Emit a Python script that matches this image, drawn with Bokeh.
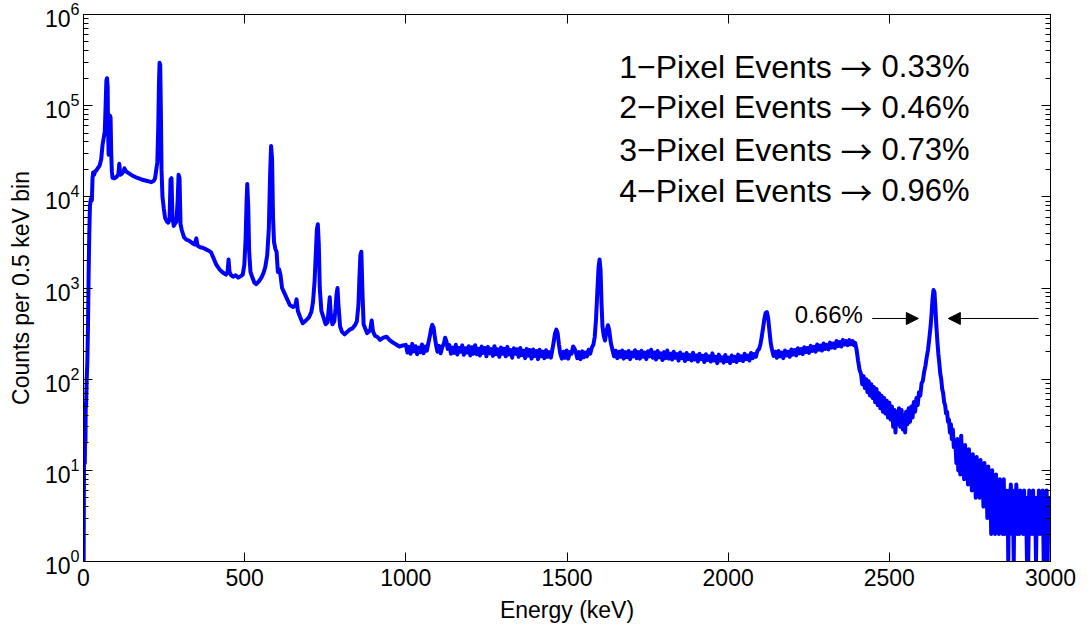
from bokeh.plotting import figure
from bokeh.models import (Range1d, FixedTicker, LinearAxis, LogAxis, Label, Arrow,
                          NormalHead, CustomLabelingPolicy)
from bokeh.embed import file_html
from bokeh.resources import INLINE

# ---------------- data ----------------
# Low-energy part: X-ray peaks, Compton continuum and the strong lines (keV, counts)
low_energy = [
    (0.5, 1), (1.5, 13), (3, 18), (4, 12), (5, 25), (6, 20), (7, 55), (8, 50),
    (10, 100), (12, 160), (14, 400), (16, 1500), (18, 4000), (20, 8000),
    (23, 9500), (26, 9200), (28, 16000), (30, 18500), (33, 17500), (36, 19000),
    (40, 19500), (44, 20500), (50, 22000), (55, 26000), (59, 37000), (63, 45000),
    (66, 52000), (69, 110000), (71, 190000), (73, 200000), (75, 160000), (76, 60000),
    (78, 29000), (80, 60000), (82, 78000), (84, 74000), (86, 30000), (88, 19000),
    (90, 16200), (96, 16000), (102, 16500), (108, 17500), (111, 23000), (114, 17500),
    (118, 17800), (122, 18500), (127, 20500), (132, 19000), (140, 18200),
    (153, 17000), (165, 16200), (180, 15500), (195, 15000), (211, 14500),
    (218, 15000), (222, 16000), (229, 24000), (232, 60000), (234, 170000),
    (236, 295000), (238, 280000), (240, 90000), (242, 20000), (245, 10000),
    (249, 7500), (253, 5900), (258, 5400), (263, 5200), (267, 5600), (270, 15500),
    (273, 16000), (276, 6000), (280, 4800), (284, 5100), (288, 5300), (292, 9000),
    (295, 17500), (298, 16000), (301, 5000), (305, 4300), (312, 3600), (319, 3400),
    (328, 3300), (338, 3100), (345, 3000), (350, 3500), (354, 2900), (362, 2800),
    (370, 2760), (380, 2650), (390, 2550), (396, 2450), (404, 2100), (412, 1800),
    (422, 1600), (432, 1480), (442, 1400), (447, 1500), (450, 2050), (453, 1500),
    (458, 1380), (464, 1330), (472, 1380), (480, 1300), (488, 1350), (494, 1400),
    (499, 1800), (503, 3500), (506, 9000), (508, 13800), (511, 8000), (514, 2500),
    (518, 1500), (524, 1300), (530, 1150), (536, 1100), (544, 1180), (552, 1300),
    (558, 1450), (564, 1700), (570, 2300), (575, 4500), (579, 18000), (582, 36000),
    (585, 26000), (588, 6000), (591, 3200), (595, 2700), (599, 2500), (603, 1500),
    (607, 1600), (611, 1400), (616, 1000), (622, 900), (630, 780), (640, 650),
    (650, 620), (657, 640), (661, 750), (665, 560), (672, 480), (680, 410),
    (690, 440), (700, 480), (707, 550), (712, 700), (717, 1200), (721, 2500),
    (724, 4400), (727, 5000), (730, 3000), (733, 1000), (738, 560), (745, 470),
    (751, 400), (757, 420), (761, 600), (764, 790), (767, 520), (772, 400),
    (778, 430), (782, 600), (785, 850), (788, 1000), (791, 650), (796, 380),
    (802, 330), (810, 310), (818, 330), (826, 350), (834, 360), (842, 390),
    (848, 430), (853, 650), (856, 1300), (859, 2300), (862, 2500), (865, 1000),
    (869, 400), (874, 360), (880, 320), (886, 335), (890, 350), (894, 440),
    (898, 335), (904, 300), (912, 290), (920, 270), (930, 285), (940, 292),
    (950, 268), (960, 252), (970, 240), (980, 228), (990, 234),
]

# Flat continuum 1000-2410 keV with the 1.1, 1.46, 1.6 and 2.1 MeV lines
mid_energy = [
    (1000, 238), (1005, 196), (1010, 226), (1015, 190), (1020, 244), (1025, 202),
    (1030, 230), (1035, 188), (1040, 222), (1045, 198), (1050, 240), (1055, 192),
    (1060, 228), (1065, 205), (1070, 250), (1074, 290), (1078, 350), (1082, 395),
    (1086, 370), (1090, 290), (1094, 235), (1098, 200), (1103, 232), (1108, 192),
    (1113, 225), (1118, 245), (1122, 285), (1126, 260), (1130, 215), (1135, 236),
    (1140, 190), (1145, 222), (1150, 194), (1155, 238), (1160, 186), (1165, 220),
    (1170, 200), (1175, 235), (1180, 185), (1185, 218), (1190, 196), (1195, 230),
    (1200, 182), (1205, 224), (1210, 190), (1215, 236), (1220, 188), (1225, 215),
    (1230, 182), (1235, 228), (1240, 194), (1245, 220), (1250, 178), (1255, 226),
    (1260, 192), (1265, 214), (1270, 180), (1275, 230), (1280, 188), (1285, 212),
    (1290, 176), (1295, 222), (1300, 190), (1305, 215), (1310, 178), (1315, 226),
    (1320, 186), (1325, 208), (1330, 172), (1335, 218), (1340, 190), (1345, 212),
    (1350, 176), (1355, 220), (1360, 184), (1365, 205), (1370, 170), (1375, 215),
    (1380, 182), (1385, 208), (1390, 168), (1395, 212), (1400, 180), (1405, 204),
    (1410, 166), (1415, 210), (1420, 178), (1425, 200), (1430, 170), (1435, 208),
    (1440, 176), (1445, 198), (1450, 172), (1455, 215), (1459, 260), (1463, 320),
    (1467, 350), (1471, 320), (1475, 240), (1479, 192), (1484, 168), (1489, 200),
    (1494, 172), (1499, 206), (1504, 168), (1509, 198), (1514, 190), (1519, 228),
    (1523, 218), (1527, 200), (1532, 170), (1537, 198), (1542, 166), (1547, 202),
    (1552, 174), (1557, 196), (1562, 178), (1567, 210), (1572, 190), (1577, 222),
    (1582, 240), (1586, 290), (1590, 450), (1594, 900), (1598, 1700), (1601, 2050),
    (1604, 1600), (1607, 700), (1610, 380), (1614, 300), (1618, 265), (1622, 330),
    (1627, 390), (1631, 345), (1636, 250), (1641, 210), (1646, 178), (1651, 205),
    (1656, 170), (1661, 200), (1666, 176), (1671, 206), (1676, 168), (1681, 198),
    (1686, 174), (1691, 204), (1696, 166), (1701, 196), (1706, 178), (1711, 208),
    (1716, 170), (1721, 198), (1726, 168), (1731, 205), (1736, 176), (1741, 196),
    (1746, 166), (1751, 202), (1756, 178), (1761, 210), (1766, 172), (1771, 196),
    (1776, 164), (1781, 204), (1786, 174), (1791, 192), (1796, 162), (1801, 198),
    (1806, 170), (1811, 206), (1816, 168), (1821, 190), (1826, 164), (1831, 200),
    (1836, 172), (1841, 188), (1846, 160), (1851, 196), (1856, 170), (1861, 186),
    (1866, 158), (1871, 194), (1876, 166), (1881, 184), (1886, 160), (1891, 195),
    (1896, 164), (1901, 182), (1906, 156), (1911, 190), (1916, 166), (1921, 180),
    (1926, 154), (1931, 188), (1936, 162), (1941, 178), (1946, 156), (1951, 192),
    (1956, 160), (1961, 176), (1966, 150), (1971, 186), (1976, 160), (1981, 174),
    (1986, 152), (1991, 184), (1996, 158), (2001, 172), (2006, 150), (2011, 182),
    (2016, 158), (2021, 176), (2026, 154), (2031, 186), (2036, 162), (2041, 178),
    (2046, 158), (2051, 190), (2056, 166), (2061, 182), (2066, 160), (2071, 194),
    (2076, 170), (2081, 188), (2086, 176), (2091, 205), (2096, 215), (2100, 240),
    (2104, 290), (2108, 360), (2112, 450), (2116, 530), (2120, 545), (2124, 470),
    (2128, 340), (2132, 250), (2136, 210), (2141, 180), (2146, 200), (2151, 172),
    (2156, 204), (2161, 178), (2166, 196), (2171, 170), (2176, 206), (2181, 182),
    (2186, 200), (2191, 176), (2196, 212), (2201, 186), (2206, 208), (2211, 182),
    (2216, 218), (2221, 192), (2226, 214), (2231, 188), (2236, 224), (2241, 198),
    (2246, 220), (2251, 194), (2256, 232), (2261, 204), (2266, 226), (2271, 200),
    (2276, 240), (2281, 210), (2286, 234), (2291, 206), (2296, 246), (2301, 214),
    (2306, 238), (2311, 212), (2316, 252), (2321, 222), (2326, 246), (2331, 220),
    (2336, 262), (2341, 230), (2346, 256), (2351, 228), (2356, 270), (2361, 240),
    (2366, 262), (2371, 236), (2376, 268), (2381, 242), (2386, 262), (2390, 236),
    (2394, 250), (2398, 215), (2403, 160), (2408, 125),
]

# Compton edge, valley and the 2.6 MeV line
high_energy = [
    (2412, 115), (2416, 88), (2420, 108), (2424, 80), (2428, 100), (2432, 72),
    (2436, 95), (2440, 66), (2444, 88), (2448, 62), (2452, 82), (2456, 56),
    (2460, 78), (2464, 52), (2468, 70), (2472, 48), (2476, 66), (2480, 44),
    (2484, 62), (2488, 42), (2492, 58), (2496, 38), (2500, 55), (2504, 36),
    (2508, 50), (2512, 30), (2516, 46), (2519, 26), (2522, 44), (2526, 32),
    (2530, 48), (2534, 30), (2538, 46), (2542, 28), (2546, 40), (2549, 26),
    (2552, 44), (2556, 32), (2560, 48), (2564, 34), (2568, 50), (2572, 38),
    (2576, 56), (2580, 44), (2584, 62), (2588, 52), (2592, 72), (2596, 66),
    (2600, 90), (2604, 96), (2608, 120), (2612, 140), (2616, 175), (2620, 210),
    (2624, 280), (2628, 380), (2631, 520), (2634, 760), (2637, 950), (2640, 900),
    (2643, 600), (2646, 380), (2649, 260), (2652, 190), (2655, 150), (2658, 115),
    (2661, 100), (2664, 78), (2667, 70), (2670, 56), (2673, 52), (2676, 42),
    (2679, 44), (2682, 34), (2685, 36), (2688, 26), (2691, 32), (2694, 22),
    (2697, 28), (2700, 18),
]

# Noisy tail up to 3 MeV (integer counts per bin)
tail_energy = [
    (2705, 20), (2708, 12), (2711, 22), (2714, 10), (2717, 18), (2720, 9),
    (2723, 24), (2726, 11), (2729, 16), (2732, 8), (2735, 19), (2738, 10),
    (2741, 14), (2744, 7), (2747, 17), (2750, 9), (2753, 13), (2756, 6),
    (2759, 15), (2762, 8), (2765, 12), (2768, 5), (2771, 14), (2774, 7),
    (2777, 11), (2780, 5), (2783, 13), (2786, 6), (2789, 10), (2792, 4),
    (2795, 12), (2798, 5), (2801, 9), (2804, 3), (2807, 11), (2810, 4),
    (2813, 8), (2816, 2), (2819, 10), (2822, 3), (2825, 8), (2828, 2),
    (2831, 9), (2834, 3), (2837, 7), (2840, 2), (2843, 8), (2846, 3),
    (2849, 6), (2852, 2), (2855, 8), (2858, 2), (2861, 6), (2864, 2),
    (2867, 5), (2869, 1), (2871, 6), (2874, 2), (2877, 7), (2880, 2),
    (2883, 5), (2886, 1), (2888, 6), (2891, 2), (2894, 7), (2897, 2),
    (2900, 5), (2903, 2), (2906, 6), (2909, 3), (2912, 5), (2915, 2),
    (2918, 6), (2921, 2), (2924, 5), (2927, 1), (2929, 5), (2931, 1),
    (2934, 6), (2937, 2), (2940, 5), (2943, 2), (2946, 6), (2949, 2),
    (2952, 5), (2955, 1), (2958, 5), (2961, 2), (2964, 6), (2967, 2),
    (2970, 5), (2973, 2), (2976, 6), (2979, 1), (2982, 5), (2985, 2),
    (2988, 6), (2991, 1), (2994, 5), (2997, 2), (3000, 5),
]

x_ticks = [0, 500, 1000, 1500, 2000, 2500, 3000]
y_decades = [1, 10, 100, 1000, 10000, 100000, 1000000]

event_names = ["1\u2212Pixel Events", "2\u2212Pixel Events",
               "3\u2212Pixel Events", "4\u2212Pixel Events"]
event_values = ["0.33%", "0.46%", "0.73%", "0.96%"]
event_label_y = [268500, 95500, 33050, 11730]
event_name_x = 1662
event_arrow_x = 2398
event_value_x = 2476

fwhm_label = "0.66%"
fwhm_label_pos = (2418, 512)
arrow_y = 463
arrow_left = (2447, 2590)
arrow_right = (2963, 2683)

# ---------------- figure ----------------
points = low_energy + mid_energy + high_energy + tail_energy
energy = [e for e, c in points]
counts = [c for e, c in points]

FONT = "Liberation Sans"

p = figure(
    frame_width=967, frame_height=547,
    x_range=Range1d(0, 3000), y_range=Range1d(1, 1e6),
    y_axis_type="log",
    output_backend="svg", toolbar_location=None,
    min_border_left=83, min_border_top=14, min_border_right=30, min_border_bottom=40,
    background_fill_color="white", border_fill_color="white",
)
p.grid.visible = False
p.outline_line_color = "black"
p.outline_line_width = 1

minor = [k * d for d in y_decades[:-1] for k in range(2, 10)]

p.xaxis.ticker = FixedTicker(ticks=x_ticks, minor_ticks=[])
p.yaxis.ticker = FixedTicker(ticks=y_decades, minor_ticks=minor)


def style_axis(ax):
    ax.axis_line_color = "black"
    ax.major_tick_line_color = "black"
    ax.minor_tick_line_color = "black"
    ax.major_tick_in = 9
    ax.major_tick_out = 0
    ax.minor_tick_in = 5
    ax.minor_tick_out = 0
    ax.major_label_text_font = FONT
    ax.major_label_text_color = "black"
    ax.major_label_text_font_size = "23px"
    ax.axis_label_text_font = FONT
    ax.axis_label_text_font_size = "23px"
    ax.axis_label_text_font_style = "normal"
    ax.axis_label_text_color = "black"


style_axis(p.xaxis[0])
style_axis(p.yaxis[0])
p.xaxis.axis_label = "Energy (keV)"
p.yaxis.axis_label = "Counts per 0.5 keV bin"
p.xaxis.major_label_standoff = 7
p.xaxis.axis_label_standoff = 8
p.yaxis.major_label_standoff = 4
p.yaxis.axis_label_standoff = 8

hide_labels = CustomLabelingPolicy(code="for (const i of indices) { if (i < 0) yield i }")

top = LinearAxis(ticker=FixedTicker(ticks=x_ticks, minor_ticks=[]))
style_axis(top)
top.major_label_policy = hide_labels
top.major_label_text_font_size = "1px"
p.add_layout(top, "above")

right = LogAxis(ticker=FixedTicker(ticks=y_decades, minor_ticks=minor))
style_axis(right)
right.major_label_policy = hide_labels
right.major_label_text_font_size = "1px"
p.add_layout(right, "right")

p.line(energy, counts, line_color="#0000ff", line_width=4, line_join="round")

for name, val, yv in zip(event_names, event_values, event_label_y):
    p.add_layout(Label(x=event_name_x, y=yv, text=name, text_font=FONT,
                       text_font_size="32px", text_color="black",
                       text_baseline="middle", text_align="left"))
    p.add_layout(Label(x=event_arrow_x, y=yv, text="\u2192",
                       text_font="Noto Sans CJK JP",
                       text_font_size="32px", text_color="black",
                       text_baseline="middle", text_align="center"))
    p.add_layout(Label(x=event_value_x, y=yv, text=val, text_font=FONT,
                       text_font_size="31px", text_color="black",
                       text_baseline="middle", text_align="left"))

p.add_layout(Label(x=fwhm_label_pos[0], y=fwhm_label_pos[1], text=fwhm_label,
                   text_font=FONT, text_font_size="24px", text_color="black",
                   text_baseline="middle", text_align="right"))

for xs, xe in (arrow_left, arrow_right):
    p.add_layout(Arrow(x_start=xs, y_start=arrow_y, x_end=xe, y_end=arrow_y,
                       line_color="black", line_width=1,
                       end=NormalHead(size=12, fill_color="black", line_color="black")))

open("out.html", "w").write(file_html(p, INLINE))
